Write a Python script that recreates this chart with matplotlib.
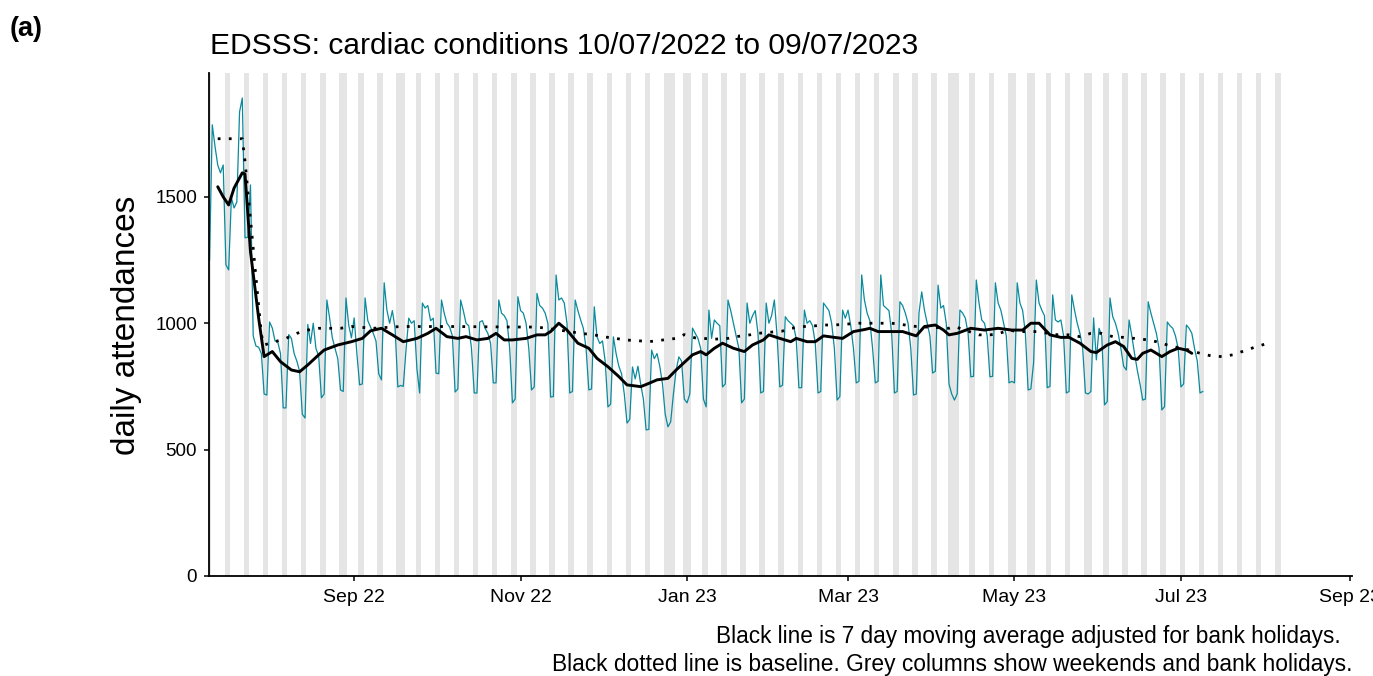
import matplotlib
matplotlib.use('Agg')
import matplotlib.pyplot as plt
import matplotlib.dates as mdates
import pandas as pd

plt.rcParams['font.family'] = ['Liberation Sans', 'DejaVu Sans']

start = pd.Timestamp('2022-07-10')

# daily attendances, one row per week (Sun..Sat)
daily = [
    1250, 1785, 1700, 1626, 1595, 1626, 1231,
    1211, 1496, 1456, 1480, 1836, 1891, 1338,
    1340, 1547, 950, 910, 905, 880, 720,
    716, 1005, 981, 930, 926, 880, 665,
    665, 955, 940, 880, 850, 810, 640,
    625, 995, 920, 1000, 900, 870, 705,
    720, 1092, 1021, 942, 900, 860, 736,
    730, 1100, 993, 942, 1021, 880, 756,
    760, 1100, 1010, 985, 960, 930, 800,
    776, 1160, 1052, 1000, 1050, 980, 748,
    754, 750, 894, 1020, 1000, 1010, 820,
    724, 1080, 1060, 1070, 1010, 1020, 803,
    800, 1092, 1040, 1000, 985, 950, 728,
    740, 1092, 1050, 1000, 990, 900, 724,
    724, 1005, 1010, 980, 960, 920, 764,
    764, 1092, 1040, 1030, 1010, 900, 685,
    700, 1105, 1050, 1040, 1000, 900, 736,
    748, 1118, 1070, 1060, 1040, 1000, 708,
    710, 1191, 1092, 1100, 1080, 1000, 724,
    730, 1092, 1050, 1013, 980, 900, 736,
    740, 1065, 946, 920, 930, 850, 669,
    680, 946, 880, 830, 800, 720, 605,
    620, 827, 780, 830, 760, 700, 578,
    580, 894, 860, 880, 830, 760, 640,
    590, 610, 720, 815, 867, 850, 700,
    685, 720, 981, 960, 940, 900, 700,
    669, 1052, 940, 1013, 1000, 990, 748,
    760, 1092, 1050, 1000, 950, 900, 685,
    700, 1080, 1000, 1030, 1050, 960, 724,
    730, 1080, 1000, 1030, 1092, 950, 748,
    755, 1026, 1010, 1000, 990, 940, 745,
    745, 1052, 1000, 1010, 990, 920, 724,
    730, 1080, 1065, 1050, 1000, 900, 696,
    710, 1052, 1020, 1052, 990, 900, 764,
    770, 1191, 1092, 1040, 1010, 900, 764,
    770, 1191, 1070, 1060, 1050, 960, 724,
    730, 1085, 1070, 1040, 1000, 900, 716,
    720, 1040, 1124, 1052, 1000, 950, 803,
    810, 1151, 1060, 1070, 1000, 760, 720,
    696, 720, 1052, 1040, 1020, 960, 788,
    790, 1171, 1080, 1013, 1000, 950, 788,
    790, 1160, 1080, 1052, 1000, 950, 764,
    770, 764, 1160, 1080, 1050, 960, 736,
    740, 843, 1171, 1080, 1052, 1030, 745,
    750, 1112, 1013, 1005, 1013, 950, 724,
    730, 1112, 1052, 1000, 960, 900, 724,
    720, 730, 1021, 855, 980, 950, 677,
    690, 1100, 1026, 1000, 960, 900, 830,
    815, 1013, 950, 880, 815, 760, 696,
    700, 1085, 1040, 1000, 960, 900, 657,
    670, 1005, 990, 980, 950, 900, 748,
    760, 993, 980, 960, 900, 850, 724,
    730,
]

# 7 day moving average (days after start, value)
ma_day = [3, 5, 7, 9, 12, 13, 15, 18, 20, 23, 26, 30, 33, 36, 40, 42, 47, 52,
          56, 59, 63, 67, 71, 76, 80, 83, 87, 91, 94, 98, 102, 105, 108, 111,
          116, 120, 123, 125, 128, 131, 135, 139, 142, 146, 150, 153, 156, 158,
          161, 164, 168, 171, 173, 177, 180, 182, 185, 188, 192, 196, 199, 203,
          205, 209, 213, 215, 219, 222, 225, 229, 232, 236, 240, 242, 245, 250,
          254, 259, 262, 266, 269, 271, 274, 279, 284, 289, 294, 298, 301, 304,
          308, 312, 315, 319, 323, 325, 329, 332, 335, 338, 340, 342, 345, 349,
          352, 355, 358, 360]
ma_val = [1540, 1500, 1468, 1535, 1595, 1590, 1283, 1020, 868, 888, 848, 815,
          808, 835, 875, 894, 914, 927, 940, 970, 980, 954, 927, 940, 960, 980,
          947, 940, 947, 934, 940, 960, 934, 934, 940, 954, 954, 967, 1000, 973,
          921, 901, 861, 828, 789, 756, 752, 749, 762, 776, 782, 815, 835, 875,
          888, 875, 901, 921, 901, 888, 914, 934, 954, 940, 927, 940, 927, 927,
          950, 944, 940, 967, 975, 980, 967, 967, 967, 950, 987, 993, 973, 954,
          960, 980, 973, 980, 973, 973, 1000, 1000, 954, 944, 944, 921, 888, 884,
          914, 927, 908, 861, 857, 881, 894, 868, 888, 901, 894, 881]

# baseline (days after start, value)
base_day = [3, 12, 13, 19, 20, 24, 28, 32, 36, 40, 48, 52, 60, 70, 90, 110, 120,
            128, 132, 136, 141, 144, 149, 152, 157, 161, 164, 171, 174, 178, 181,
            185, 190, 193, 198, 201, 205, 210, 213, 218, 221, 226, 229, 234, 238,
            250, 255, 259, 271, 273, 282, 286, 289, 293, 296, 300, 303, 311, 315,
            319, 323, 327, 331, 335, 339, 344, 347, 351, 356, 359, 363, 367, 371,
            375, 379, 383, 387]
base_val = [1730, 1730, 1640, 954, 914, 927, 940, 960, 973, 980, 980, 987, 980,
            987, 987, 985, 985, 973, 967, 960, 954, 947, 940, 934, 931, 927, 931,
            940, 955, 942, 940, 937, 940, 947, 954, 960, 964, 969, 980, 987, 989,
            993, 993, 997, 1000, 1000, 993, 987, 980, 987, 954, 954, 958, 973, 967,
            967, 967, 954, 954, 947, 960, 960, 947, 944, 940, 934, 927, 914, 901,
            894, 881, 871, 868, 875, 890, 905, 918]

bank_holidays = ['2022-08-29', '2022-09-19', '2022-12-26', '2022-12-27',
                 '2023-01-02', '2023-04-07', '2023-04-10', '2023-05-01',
                 '2023-05-08', '2023-05-29']
grey_end = '2023-08-06'

teal = '#0A8A9C'

fig = plt.figure(figsize=(13.73, 6.76), dpi=100)
ax = fig.add_axes([209 / 1373, 100 / 676, (1352 - 209) / 1373, (576 - 73) / 676])

# grey columns for weekends and bank holidays
bh = pd.to_datetime(bank_holidays)
for d in pd.date_range(start, grey_end):
    if d.dayofweek >= 5 or d in bh:
        x = mdates.date2num(d)
        ax.axvspan(x - 0.5, x + 0.5, color='#E5E5E5', lw=0, zorder=0)

dates = pd.date_range(start, periods=len(daily))
ax.plot(dates, daily, color=teal, lw=0.9, zorder=2)

ma_dates = start + pd.to_timedelta(ma_day, unit='D')
ax.plot(ma_dates, ma_val, color='black', lw=2.1, zorder=3,
        solid_joinstyle='round', solid_capstyle='round')

base_dates = start + pd.to_timedelta(base_day, unit='D')
ax.plot(base_dates, base_val, color='black', lw=2.0, linestyle=(0, (1, 3)), zorder=3)

ax.set_xlim(mdates.date2num(start) - 0.2, mdates.date2num(pd.Timestamp('2023-09-01')) + 0.7)
ax.set_ylim(0, 1990)
ax.set_yticks([0, 500, 1000, 1500])

ticks = pd.to_datetime(['2022-09-01', '2022-11-01', '2023-01-01', '2023-03-01',
                        '2023-05-01', '2023-07-01', '2023-09-01'])
ax.set_xticks(ticks)
ax.xaxis.set_major_formatter(mdates.DateFormatter('%b %y'))

for s in ['top', 'right']:
    ax.spines[s].set_visible(False)
for s in ['left', 'bottom']:
    ax.spines[s].set_linewidth(1.3)
ax.tick_params(axis='both', length=3.5, width=1.1, colors='black')
ax.tick_params(axis='x', pad=6, labelsize=14)
ax.tick_params(axis='y', pad=5, labelsize=13.5)

fig.text(10 / 1373, 1 - 36 / 676, '(a)', fontsize=19.5, fontweight='bold', va='baseline')
fig.text(210 / 1373, 1 - 54 / 676, 'EDSSS: cardiac conditions 10/07/2022 to 09/07/2023',
         fontsize=21.6, va='baseline')
fig.text(126 / 1373, 1 - 325 / 676, 'daily attendances', fontsize=24, rotation=90,
         ha='center', va='center')
fig.text(1341 / 1373, 1 - 636 / 676,
         'Black line is 7 day moving average adjusted for bank holidays.',
         fontsize=16.3, ha='right', va='center')
fig.text(1352 / 1373, 1 - 664 / 676,
         'Black dotted line is baseline. Grey columns show weekends and bank holidays.',
         fontsize=16.4, ha='right', va='center')

fig.savefig('out.png', dpi=100)
